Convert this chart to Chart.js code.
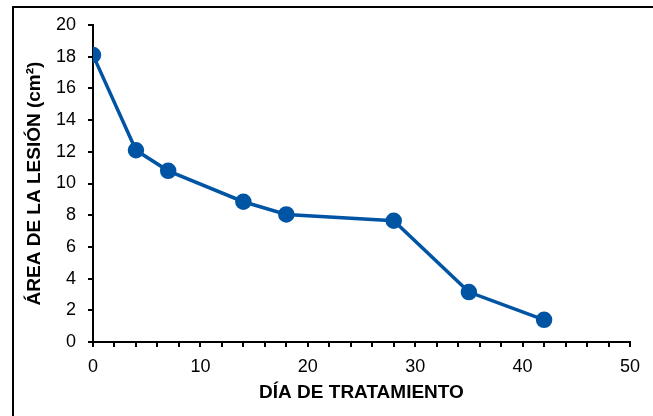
<!DOCTYPE html>
<html>
<head>
<meta charset="utf-8">
<script src="https://cdn.jsdelivr.net/npm/chart.js@4/dist/chart.umd.min.js"></script>
<style>
  html, body { margin: 0; padding: 0; background: #fff; overflow: hidden; }
  #wrap { position: relative; width: 653px; height: 416px; }
  #frame { position: absolute; left: 12px; top: 6px; width: 700px; height: 500px; border: 2px solid #000; box-sizing: border-box; }
  canvas { position: absolute; left: 0; top: 0; }
</style>
</head>
<body>
<div id="wrap">
  <div id="frame"></div>
  <canvas id="chart" width="653" height="416"></canvas>
</div>
<script>
// días de tratamiento y área de la lesión (cm²)
const dias = [0, 4, 7, 14, 18, 28, 35, 42];
const area = [18.1, 12.1, 10.8, 8.85, 8.05, 7.65, 3.15, 1.4];

const xTitle = "DÍA DE TRATAMIENTO";
const yTitle = "ÁREA DE LA LESIÓN (cm²)";

const azul = "#0054a4";
const fuente = "'Liberation Sans', Arial, Helvetica, sans-serif";

const ctx = document.getElementById("chart").getContext("2d");
new Chart(ctx, {
  type: "scatter",
  data: {
    datasets: [
      {
        data: dias.map((d, i) => ({ x: d, y: area[i] })),
        showLine: true,
        borderColor: azul,
        backgroundColor: azul,
        borderWidth: 3.5,
        pointRadius: 6.5,
        pointHoverRadius: 6.5,
      },
    ],
  },
  options: {
    responsive: false,
    animation: false,
    events: [],
    layout: { padding: { left: 13, right: 23, top: 25, bottom: 0 } },
    plugins: { legend: { display: false }, tooltip: { enabled: false } },
    scales: {
      x: {
        type: "linear",
        min: 0,
        max: 50,
        afterFit: (s) => { s.height = 74; },
        border: { color: "#000", width: 2 },
        grid: { drawOnChartArea: false, color: "#000", lineWidth: 2, tickLength: 5 },
        ticks: {
          stepSize: 2,
          autoSkip: false,
          maxRotation: 0,
          color: "#000",
          padding: 9,
          font: { family: fuente, size: 18 },
          callback: (v) => (v % 10 === 0 ? v : ""),
        },
        title: {
          display: true,
          text: xTitle,
          color: "#000",
          padding: { top: 0, bottom: 12 },
          font: { family: fuente, size: 19, weight: "bold" },
        },
      },
      y: {
        min: 0,
        max: 20,
        afterFit: (s) => { s.width = 80; },
        border: { color: "#000", width: 2 },
        grid: { drawOnChartArea: false, color: "#000", lineWidth: 2, tickLength: 5 },
        ticks: {
          stepSize: 2,
          color: "#000",
          padding: 12,
          font: { family: fuente, size: 18 },
        },
        title: {
          display: true,
          text: yTitle,
          color: "#000",
          padding: { top: 10, bottom: 0 },
          font: { family: fuente, size: 19, weight: "bold" },
        },
      },
    },
  },
});
</script>
</body>
</html>
